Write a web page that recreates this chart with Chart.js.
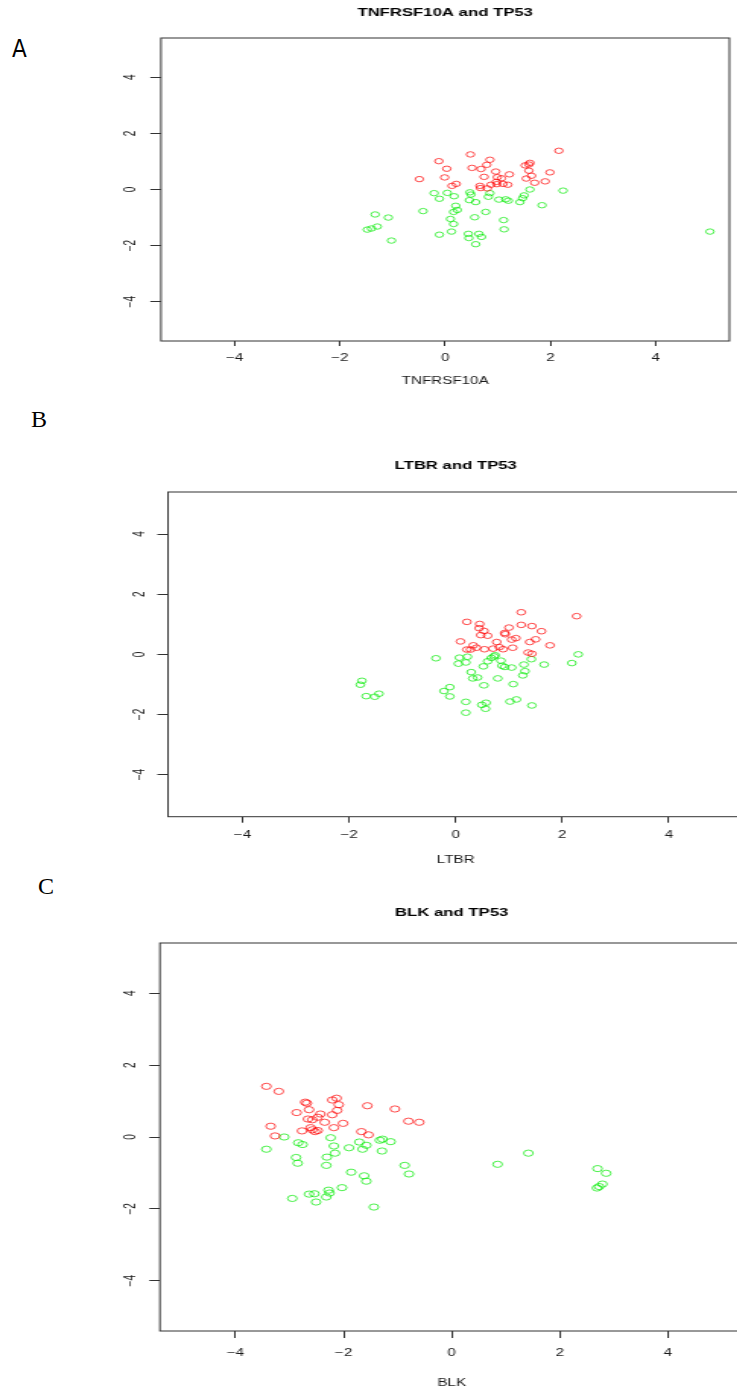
<!DOCTYPE html>
<html>
<head>
<meta charset="utf-8">
<script src="https://cdn.jsdelivr.net/npm/chart.js@4.4.0/dist/chart.umd.min.js"></script>
<style>
  html, body { margin: 0; padding: 0; background: #fff; width: 737px; height: 1393px; overflow: hidden; }
  canvas { position: absolute; left: 0; }
  .tag { position: absolute; font-size: 24px; line-height: 24px; color: #000; }
</style>
</head>
<body>
<div class="tag" style="left:12px; top:37px; font-family:'Liberation Sans Narrow','DejaVu Sans Condensed',sans-serif;">A</div>
<div class="tag" style="left:31px; top:407px; font-family:'Liberation Serif',serif;">B</div>
<div class="tag" style="left:38px; top:874px; font-family:'Liberation Serif',serif;">C</div>

<canvas id="chartA" width="485" height="395" style="top:0px; width:737px; height:395px;"></canvas>
<canvas id="chartB" width="494" height="440" style="top:440px; width:751px; height:440px;"></canvas>
<canvas id="chartC" width="494" height="503" style="top:890px; width:751px; height:503px;"></canvas>

<script>
// TP53 > 0 drawn red, TP53 < 0 drawn green
const tnfRedX = [0.48, -0.12, 0.85, 0.79, 0.03, 0.51, 0.68, 0.96, -0.01, -0.49, 0.74, 0.99, 1.22, 0.21, 0.13, 0.66, 0.67, 0.80, 0.87, 0.97, 0.98, 1.07, 1.10, 1.19, 2.16, 1.52, 1.61, 1.59, 1.59, 1.99, 1.64, 1.54, 1.90, 1.70];
const tnfRedY = [1.25, 1.01, 1.06, 0.88, 0.74, 0.77, 0.73, 0.64, 0.43, 0.37, 0.45, 0.44, 0.54, 0.20, 0.13, 0.13, 0.05, 0.04, 0.17, 0.27, 0.19, 0.40, 0.20, 0.17, 1.38, 0.86, 0.95, 0.89, 0.67, 0.61, 0.49, 0.39, 0.29, 0.24];
const tnfGreenX = [-0.21, 0.04, -0.11, 0.17, 0.47, 0.49, 0.46, 0.58, 0.85, 0.82, 1.02, 1.15, 1.20, 1.61, 1.50, 1.47, 1.42, 2.24, 1.84, -0.42, 0.20, 0.23, 0.16, 0.77, 0.56, 0.10, 0.16, 1.11, -0.11, 0.12, 0.44, 0.45, 0.64, 0.69, 0.58, 1.12, -1.33, -1.08, -1.29, -1.40, -1.48, -1.02, 5.03];
const tnfGreenY = [-0.13, -0.12, -0.33, -0.24, -0.10, -0.18, -0.38, -0.45, -0.13, -0.26, -0.36, -0.35, -0.40, 0.00, -0.21, -0.31, -0.45, -0.04, -0.56, -0.77, -0.58, -0.73, -0.80, -0.80, -0.99, -1.05, -1.23, -1.09, -1.61, -1.50, -1.58, -1.73, -1.58, -1.69, -1.95, -1.42, -0.89, -1.00, -1.32, -1.39, -1.43, -1.82, -1.50];

const ltbrRedX = [0.21, 0.45, 0.44, 0.53, 0.47, 0.60, 0.09, 0.77, 0.33, 0.21, 0.28, 0.39, 0.54, 0.70, 1.23, 2.27, 1.23, 1.43, 1.00, 0.92, 0.93, 1.61, 1.13, 1.05, 1.50, 1.39, 1.77, 0.82, 0.89, 1.07, 1.36, 1.43];
const ltbrRedY = [1.08, 1.01, 0.87, 0.78, 0.64, 0.62, 0.43, 0.41, 0.30, 0.16, 0.16, 0.22, 0.17, 0.19, 1.40, 1.27, 0.98, 0.94, 0.89, 0.71, 0.67, 0.77, 0.54, 0.49, 0.50, 0.41, 0.30, 0.24, 0.17, 0.22, 0.06, 0.02];
const ltbrGreenX = [2.30, 2.18, 0.72, 0.74, 0.67, 0.85, 0.87, 0.92, 1.05, 1.28, 1.66, 1.42, 1.30, 1.26, 0.79, 1.08, 1.14, 1.02, 1.43, -0.37, 0.07, 0.22, 0.05, 0.19, 0.52, 0.60, 0.29, 0.32, 0.41, 0.53, -0.11, -0.22, -0.11, -1.76, -1.79, -1.68, -1.52, -1.44, 0.19, 0.57, 0.49, 0.56, 0.19];
const ltbrGreenY = [0.00, -0.29, -0.07, -0.03, -0.12, -0.21, -0.38, -0.42, -0.44, -0.34, -0.34, -0.16, -0.56, -0.70, -0.80, -0.99, -1.50, -1.57, -1.70, -0.13, -0.11, -0.08, -0.31, -0.27, -0.40, -0.23, -0.59, -0.80, -0.77, -1.03, -1.09, -1.22, -1.40, -0.88, -1.01, -1.39, -1.41, -1.31, -1.58, -1.61, -1.68, -1.81, -1.94];

const blkRedX = [-3.43, -3.20, -2.71, -2.68, -2.21, -2.13, -2.64, -2.09, -2.12, -2.87, -2.43, -2.21, -1.56, -1.05, -2.66, -2.58, -2.48, -2.35, -2.01, -3.35, -2.61, -2.18, -0.80, -0.60, -2.77, -2.58, -2.53, -2.48, -1.67, -1.54, -3.27];
const blkRedY = [1.41, 1.27, 0.97, 0.94, 1.03, 1.08, 0.76, 0.90, 0.74, 0.68, 0.64, 0.62, 0.87, 0.78, 0.50, 0.48, 0.55, 0.41, 0.38, 0.30, 0.26, 0.26, 0.44, 0.41, 0.17, 0.20, 0.15, 0.18, 0.15, 0.06, 0.03];
const blkGreenX = [-3.10, -3.43, -2.84, -2.76, -2.24, -1.71, -1.58, -1.90, -2.18, -1.65, -1.33, -1.28, -1.13, -1.29, -2.16, -2.31, -2.88, -2.85, -2.32, -0.87, -0.79, -1.86, -1.62, -1.58, -2.03, -2.28, -2.26, -2.64, -2.54, -2.32, -2.95, -2.51, -1.44, 1.42, 0.85, 2.70, 2.86, 2.79, 2.73, 2.69];
const blkGreenY = [0.00, -0.34, -0.16, -0.21, -0.02, -0.14, -0.23, -0.30, -0.25, -0.34, -0.09, -0.06, -0.13, -0.39, -0.45, -0.56, -0.57, -0.73, -0.79, -0.79, -1.03, -0.98, -1.08, -1.23, -1.41, -1.48, -1.56, -1.59, -1.58, -1.67, -1.71, -1.81, -1.95, -0.45, -0.76, -0.88, -1.01, -1.31, -1.38, -1.42];

const axisMin = -5.4;
const axisMax = 5.4;
const tickStep = 2;

const FONT = "'Liberation Sans', Arial, sans-serif";
const RED = 'rgba(255, 0, 0, 0.7)';
const GREEN = 'rgba(0, 235, 0, 0.7)';

function pts(xs, ys) {
    return xs.map((x, i) => ({ x: x, y: ys[i] }));
}

function minus(v) {
    return String(v).replace('-', '\u2212');
}

// R-style closed box around the plot region
const boxPlugin = {
    id: 'box',
    afterDraw(chart) {
        const a = chart.chartArea;
        const c = chart.ctx;
        c.save();
        c.strokeStyle = '#333';
        c.lineWidth = 1;
        c.strokeRect(a.left, a.top, a.right - a.left, a.bottom - a.top);
        c.restore();
    }
};

function scatter(id, p) {
    const set = (data, color) => ({
        data: data,
        showLine: false,
        pointStyle: 'circle',
        pointRadius: p.radius,
        pointBorderWidth: 1,
        pointBorderColor: color,
        pointBackgroundColor: 'rgba(0,0,0,0)'
    });

    new Chart(document.getElementById(id), {
        type: 'scatter',
        data: {
            datasets: [set(p.red, RED), set(p.green, GREEN)]
        },
        options: {
            responsive: false,
            animation: false,
            layout: { padding: { left: 0, right: p.padRight, top: 0, bottom: 0 } },
            plugins: {
                legend: { display: false },
                tooltip: { enabled: false },
                title: {
                    display: true,
                    text: p.title,
                    fullSize: false,
                    color: '#000',
                    font: { family: FONT, size: 11, weight: 'bold' },
                    padding: p.titlePad
                }
            },
            scales: {
                x: {
                    type: 'linear',
                    position: 'bottom',
                    min: axisMin,
                    max: axisMax,
                    afterFit: s => { s.height = p.xHeight; },
                    ticks: {
                        stepSize: tickStep,
                        includeBounds: false,
                        maxRotation: 0,
                        padding: p.xPad,
                        color: '#1a1a1a',
                        font: { family: FONT, size: 10 },
                        callback: minus
                    },
                    grid: { drawOnChartArea: false, tickLength: p.xTick, color: '#333' },
                    border: { display: false },
                    title: {
                        display: true,
                        text: p.xTitle,
                        color: '#1a1a1a',
                        font: { family: FONT, size: 10 },
                        padding: { top: 0, bottom: p.xTitlePad }
                    }
                },
                y: {
                    type: 'linear',
                    min: axisMin,
                    max: axisMax,
                    afterFit: s => { s.width = p.yWidth; },
                    ticks: {
                        stepSize: tickStep,
                        includeBounds: false,
                        minRotation: 90,
                        maxRotation: 90,
                        crossAlign: 'center',
                        padding: p.yPad,
                        color: '#1a1a1a',
                        font: { family: FONT, size: 10 },
                        callback: minus
                    },
                    grid: { drawOnChartArea: false, tickLength: 7, color: '#333' },
                    border: { display: false }
                }
            }
        },
        plugins: [boxPlugin]
    });
}

scatter('chartA', {
    title: 'TNFRSF10A and TP53', xTitle: 'TNFRSF10A',
    red: pts(tnfRedX, tnfRedY), green: pts(tnfGreenX, tnfGreenY),
    titlePad: { top: 6.4, bottom: 18.4 }, padRight: 3.3,
    yWidth: 105.9, yPad: 6.5,
    xHeight: 54, xTick: 5, xPad: 6, xTitlePad: 7.3, radius: 2.7
});

scatter('chartB', {
    title: 'LTBR and TP53', xTitle: 'LTBR',
    red: pts(ltbrRedX, ltbrRedY), green: pts(ltbrGreenX, ltbrGreenY),
    titlePad: { top: 19.4, bottom: 19.4 }, padRight: 2,
    yWidth: 110.5, yPad: 5.7,
    xHeight: 63.3, xTick: 6, xPad: 6.3, xTitlePad: 13.3, radius: 2.8
});

scatter('chartC', {
    title: 'BLK and TP53', xTitle: 'BLK',
    red: pts(blkRedX, blkRedY), green: pts(blkGreenX, blkGreenY),
    titlePad: { top: 16.4, bottom: 23.4 }, padRight: 2.6,
    yWidth: 105.2, yPad: 6.3,
    xHeight: 62, xTick: 7, xPad: 9, xTitlePad: 4, radius: 3.1
});
</script>
</body>
</html>
